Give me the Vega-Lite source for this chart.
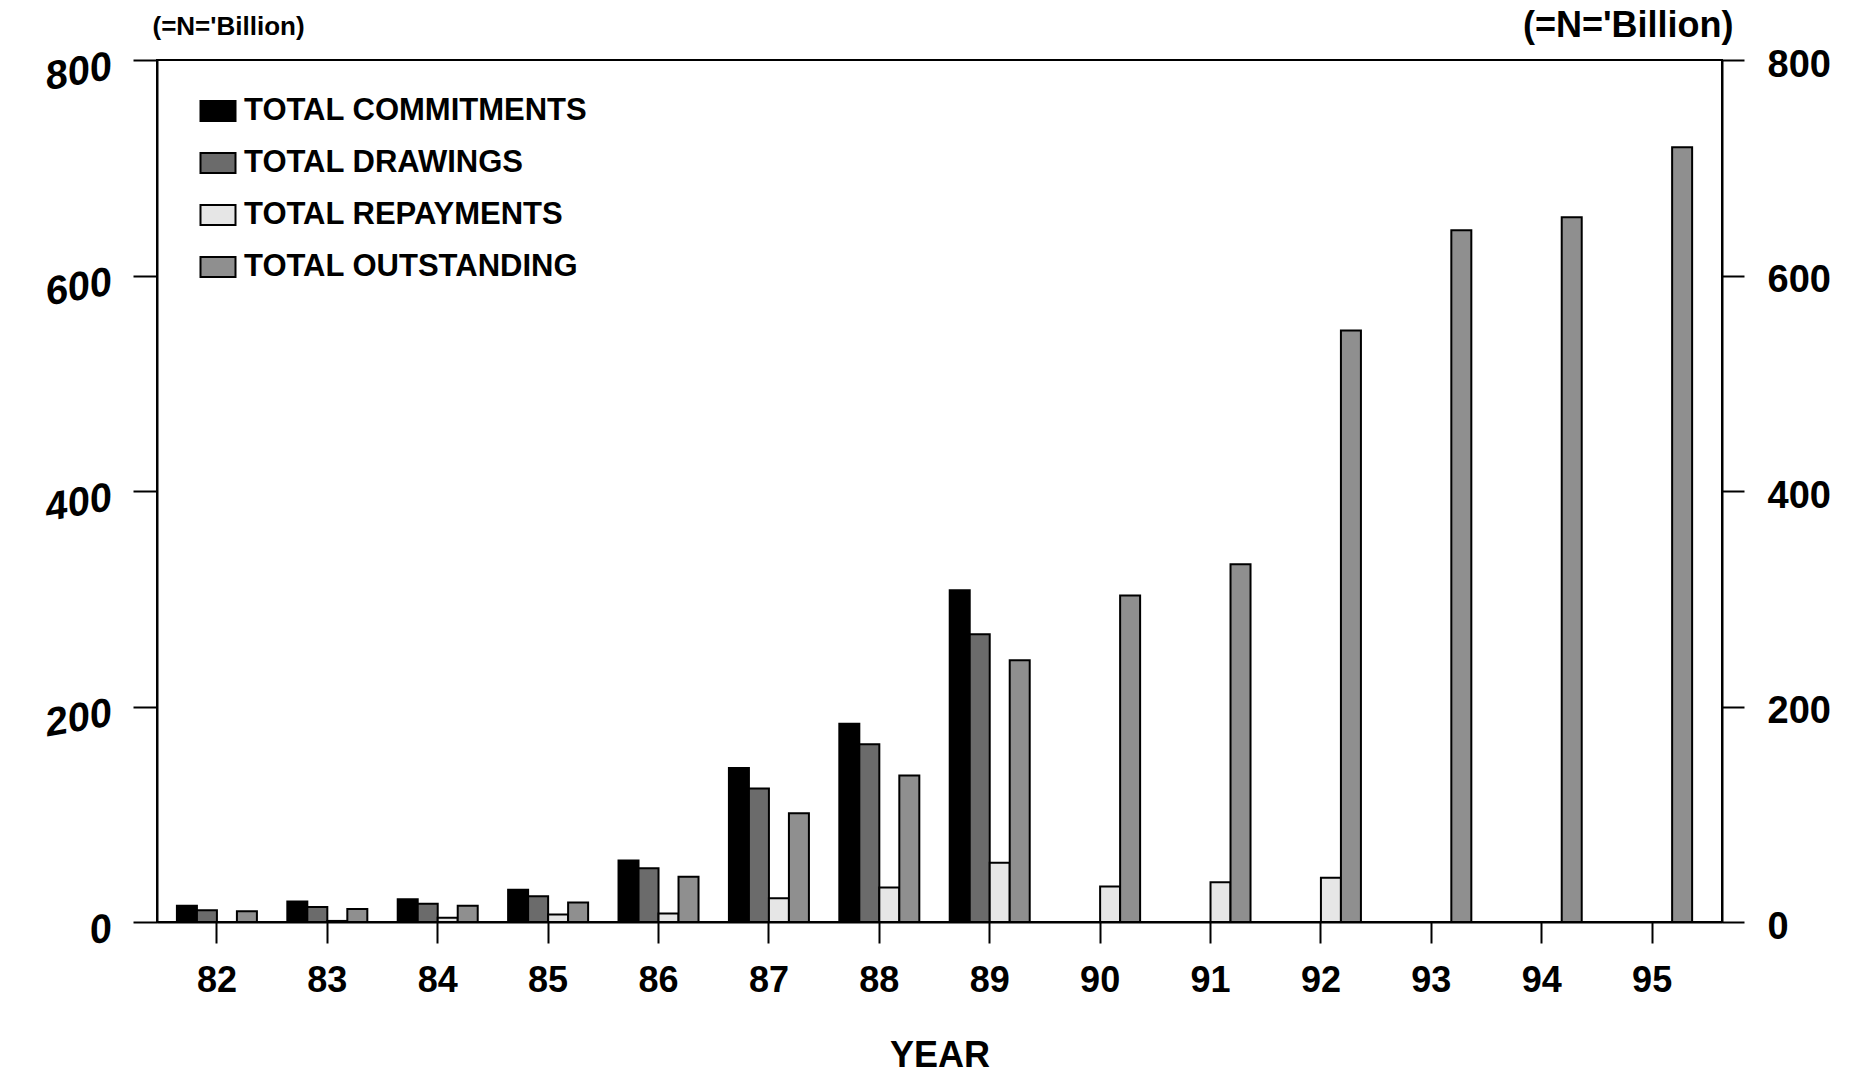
{
  "$schema": "https://vega.github.io/schema/vega-lite/v6.json",
  "width": 1565,
  "height": 862,
  "autosize": {"type": "none"},
  "padding": {"left": 157, "top": 60, "right": 139, "bottom": 157},
  "background": "white",
  "config": {
    "view": {"stroke": "black", "strokeWidth": 2},
    "font": "Liberation Sans"
  },
  "data": {
    "values": [
      {"year": "82", "series": "TOTAL COMMITMENTS", "value": 15},
      {"year": "82", "series": "TOTAL DRAWINGS", "value": 11},
      {"year": "82", "series": "TOTAL OUTSTANDING", "value": 10},
      {"year": "83", "series": "TOTAL COMMITMENTS", "value": 19},
      {"year": "83", "series": "TOTAL DRAWINGS", "value": 14},
      {"year": "83", "series": "TOTAL REPAYMENTS", "value": 1},
      {"year": "83", "series": "TOTAL OUTSTANDING", "value": 12},
      {"year": "84", "series": "TOTAL COMMITMENTS", "value": 21},
      {"year": "84", "series": "TOTAL DRAWINGS", "value": 17},
      {"year": "84", "series": "TOTAL REPAYMENTS", "value": 4},
      {"year": "84", "series": "TOTAL OUTSTANDING", "value": 15},
      {"year": "85", "series": "TOTAL COMMITMENTS", "value": 30},
      {"year": "85", "series": "TOTAL DRAWINGS", "value": 24},
      {"year": "85", "series": "TOTAL REPAYMENTS", "value": 7},
      {"year": "85", "series": "TOTAL OUTSTANDING", "value": 18},
      {"year": "86", "series": "TOTAL COMMITMENTS", "value": 57},
      {"year": "86", "series": "TOTAL DRAWINGS", "value": 50},
      {"year": "86", "series": "TOTAL REPAYMENTS", "value": 8},
      {"year": "86", "series": "TOTAL OUTSTANDING", "value": 42},
      {"year": "87", "series": "TOTAL COMMITMENTS", "value": 143},
      {"year": "87", "series": "TOTAL DRAWINGS", "value": 124},
      {"year": "87", "series": "TOTAL REPAYMENTS", "value": 22},
      {"year": "87", "series": "TOTAL OUTSTANDING", "value": 101},
      {"year": "88", "series": "TOTAL COMMITMENTS", "value": 184},
      {"year": "88", "series": "TOTAL DRAWINGS", "value": 165},
      {"year": "88", "series": "TOTAL REPAYMENTS", "value": 32},
      {"year": "88", "series": "TOTAL OUTSTANDING", "value": 136},
      {"year": "89", "series": "TOTAL COMMITMENTS", "value": 308},
      {"year": "89", "series": "TOTAL DRAWINGS", "value": 267},
      {"year": "89", "series": "TOTAL REPAYMENTS", "value": 55},
      {"year": "89", "series": "TOTAL OUTSTANDING", "value": 243},
      {"year": "90", "series": "TOTAL REPAYMENTS", "value": 33},
      {"year": "90", "series": "TOTAL OUTSTANDING", "value": 303},
      {"year": "91", "series": "TOTAL REPAYMENTS", "value": 37},
      {"year": "91", "series": "TOTAL OUTSTANDING", "value": 332},
      {"year": "92", "series": "TOTAL REPAYMENTS", "value": 41},
      {"year": "92", "series": "TOTAL OUTSTANDING", "value": 549},
      {"year": "93", "series": "TOTAL OUTSTANDING", "value": 642},
      {"year": "94", "series": "TOTAL OUTSTANDING", "value": 654},
      {"year": "95", "series": "TOTAL OUTSTANDING", "value": 719}
    ]
  },
  "layer": [
    {
      "mark": {"type": "bar", "stroke": "black", "strokeWidth": 2},
      "encoding": {
        "x": {
          "field": "year",
          "type": "ordinal",
          "scale": {"paddingInner": 0.2754, "paddingOuter": 0.2255, "align": 0.4},
          "axis": {
            "title": "YEAR",
            "labelAngle": 0,
            "labelFont": "Liberation Sans",
            "labelFontSize": 36,
            "labelFontWeight": "bold",
            "labelColor": "black",
            "labelPadding": 20,
            "tickSize": 21,
            "tickWidth": 2,
            "tickColor": "black",
            "domainColor": "black",
            "domainWidth": 2,
            "titleFont": "Liberation Sans",
            "titleFontSize": 36,
            "titleFontWeight": "bold",
            "titleColor": "black",
            "titlePadding": 40
          }
        },
        "xOffset": {
          "field": "series",
          "type": "nominal",
          "sort": ["TOTAL COMMITMENTS", "TOTAL DRAWINGS", "TOTAL REPAYMENTS", "TOTAL OUTSTANDING"],
          "scale": {"paddingInner": 0, "paddingOuter": 0}
        },
        "y": {
          "field": "value",
          "type": "quantitative",
          "scale": {"domain": [0, 800], "nice": false},
          "axis": {
            "orient": "left",
            "values": [0, 200, 400, 600, 800],
            "grid": false,
            "domainColor": "black",
            "domainWidth": 2,
            "tickColor": "black",
            "tickWidth": 2,
            "tickSize": 24,
            "labelFont": "Liberation Sans",
            "labelFontSize": 40,
            "labelFontWeight": "bold",
            "labelFontStyle": "italic",
            "labelColor": "black",
            "labelPadding": 22,
            "labelAngle": -10,
            "labelAlign": "right",
            "labelBaseline": "middle",
            "labelOffset": 6,
            "title": "(=N='Billion)",
            "titleAngle": 0,
            "titleX": -5,
            "titleY": -34,
            "titleAlign": "left",
            "titleBaseline": "middle",
            "titleFont": "Liberation Sans",
            "titleFontSize": 26,
            "titleFontWeight": "bold",
            "titleColor": "black"
          }
        },
        "fill": {
          "field": "series",
          "type": "nominal",
          "scale": {
            "domain": ["TOTAL COMMITMENTS", "TOTAL DRAWINGS", "TOTAL REPAYMENTS", "TOTAL OUTSTANDING"],
            "range": ["#000000", "#6b6b6b", "#e6e6e6", "#8f8f8f"]
          },
          "legend": {
            "orient": "none",
            "legendX": 45.5,
            "legendY": 35.5,
            "title": null,
            "padding": 0,
            "symbolType": "M-1.75,-1H1.75V1H-1.75Z",
            "symbolSize": 400,
            "symbolStrokeColor": "black",
            "symbolStrokeWidth": 2,
            "symbolOpacity": 1,
            "labelFont": "Liberation Sans",
            "labelFontSize": 31,
            "labelFontWeight": "bold",
            "labelColor": "black",
            "labelOffset": 10.5,
            "labelLimit": 700,
            "rowPadding": 20
          }
        }
      }
    },
    {
      "mark": {"type": "rule", "opacity": 0},
      "encoding": {
        "y": {
          "datum": 0,
          "type": "quantitative",
          "axis": {
            "orient": "right",
            "values": [0, 200, 400, 600, 800],
            "grid": false,
            "domainColor": "black",
            "domainWidth": 2,
            "tickColor": "black",
            "tickWidth": 2,
            "tickSize": 22,
            "labelFont": "Liberation Sans",
            "labelFontSize": 38,
            "labelFontWeight": "bold",
            "labelColor": "black",
            "labelPadding": 23,
            "labelAlign": "left",
            "labelBaseline": "middle",
            "labelOffset": 5,
            "title": "(=N='Billion)",
            "titleAngle": 0,
            "titleX": 11,
            "titleY": -35,
            "titleAlign": "right",
            "titleBaseline": "middle",
            "titleFont": "Liberation Sans",
            "titleFontSize": 36,
            "titleFontWeight": "bold",
            "titleColor": "black"
          }
        }
      }
    }
  ],
  "resolve": {"scale": {"y": "shared"}, "axis": {"y": "independent"}}
}
